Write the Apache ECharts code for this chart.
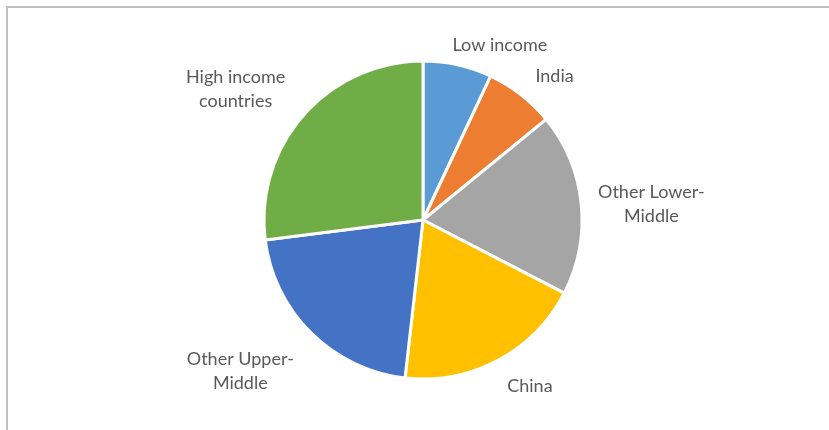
<!DOCTYPE html>
<html>
<head>
<meta charset="utf-8">
<script src="https://cdn.jsdelivr.net/npm/echarts@6/dist/echarts.min.js"></script>
<style>
html,body{margin:0;padding:0;background:#fff;}
#chart{width:829px;height:430px;}
</style>
</head>
<body>
<div id="chart"></div>
<script>
const categories = ['Low income', 'India', 'Other Lower-\nMiddle', 'China', 'Other Upper-\nMiddle', 'High income\ncountries'];
const shares = [7.0, 7.1, 18.5, 19.2, 21.2, 27.0];
const colors = ['#5B9BD5', '#ED7D31', '#A5A5A5', '#FFC000', '#4472C4', '#70AD47'];

// small label nudges (Excel "best fit" placement)
const labelNudge = [[-15, 2], [-4, -1], [-10, 3], [-6, 6], [3, 22], [3, -11]];

const chart = echarts.init(document.getElementById('chart'), null, {renderer: 'canvas'});
chart.setOption({
  backgroundColor: '#ffffff',
  animation: false,
  graphic: [
    {type: 'line', shape: {x1: 6, y1: 7, x2: 829, y2: 7}, style: {stroke: '#bfbfbf', lineWidth: 2}},
    {type: 'line', shape: {x1: 7, y1: 6, x2: 7, y2: 430}, style: {stroke: '#bfbfbf', lineWidth: 2}}
  ],
  series: [{
    type: 'pie',
    center: [423, 220],
    radius: [0, 159],
    startAngle: 90,
    clockwise: true,
    avoidLabelOverlap: false,
    itemStyle: {borderColor: '#ffffff', borderWidth: 3},
    label: {
      show: true,
      position: 'outside',
      color: '#595959',
      fontFamily: 'Lato, "Noto Sans", sans-serif',
      fontSize: 18,
      lineHeight: 24
    },
    labelLine: {show: false, length: 22, length2: 0},
    labelLayout: function (p) {
      const r = p.labelRect;
      const n = labelNudge[p.dataIndex] || [0, 0];
      return {x: r.x + r.width / 2 + n[0], y: r.y + r.height / 2 + n[1], align: 'center', verticalAlign: 'middle'};
    },
    data: categories.map((c, i) => ({name: c, value: shares[i], itemStyle: {color: colors[i]}}))
  }]
});
</script>
</body>
</html>
